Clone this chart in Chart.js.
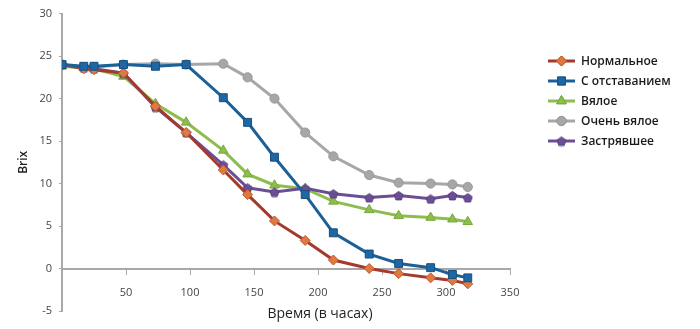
<!DOCTYPE html>
<html lang="ru">
<head>
<meta charset="utf-8">
<title>Brix</title>
<script src="https://cdn.jsdelivr.net/npm/chart.js@4.4.1/dist/chart.umd.min.js"></script>
<style>
  html, body { margin: 0; padding: 0; background: #ffffff; }
  #wrap { width: 700px; height: 329px; position: relative; }
</style>
</head>
<body>
<div id="wrap"><canvas id="brixChart"></canvas></div>
<script>
// Hours since start of fermentation
const hours = [0, 17, 25, 48, 73, 97, 126, 145, 166, 190, 212, 240, 263, 288, 305, 317];

// Brix readings per fermentation type
const normal   = [24.0, 23.5, 23.4, 23.0, 19.1, 16.0, 11.6, 8.7, 5.6, 3.3, 1.0, 0.0, -0.6, -1.1, -1.4, -1.8];
const delayed  = [24.0, 23.8, 23.8, 24.0, 23.8, 24.0, 20.1, 17.2, 13.1, 8.7, 4.2, 1.7, 0.6, 0.1, -0.7, -1.1];
const sluggish = [23.8, 23.6, 23.5, 22.6, 19.4, 17.2, 13.9, 11.1, 9.8, 9.4, 7.9, 6.9, 6.2, 6.0, 5.8, 5.5];
const verySlow = [24.0, 23.7, 23.7, 24.0, 24.1, 24.0, 24.1, 22.5, 20.0, 16.0, 13.2, 11.0, 10.1, 10.0, 9.9, 9.6];
const stuck    = [24.0, 23.6, 23.5, 23.0, 19.0, 16.0, 12.2, 9.5, 9.0, 9.45, 8.8, 8.35, 8.6, 8.2, 8.6, 8.35];

const seriesNames = ['Нормальное', 'С отставанием', 'Вялое', 'Очень вялое', 'Застрявшее'];

const xTicks = { min: 0, max: 350, step: 50 };
const yTicks = { min: -5, max: 30, step: 5 };

Chart.defaults.font.family = "'Open Sans', 'DejaVu Sans', sans-serif";

// pentagon marker for the last series (Chart.js has no built-in pentagon)
function makePentagon(size, fill, stroke) {
    const c = document.createElement('canvas');
    c.width = size;
    c.height = size;
    const g = c.getContext('2d');
    const r = size / 2 - 0.8;
    g.beginPath();
    for (let i = 0; i < 5; i++) {
        const a = -Math.PI / 2 + i * 2 * Math.PI / 5;
        const px = size / 2 + r * Math.cos(a);
        const py = size / 2 + 0.6 + r * Math.sin(a);
        if (i === 0) g.moveTo(px, py); else g.lineTo(px, py);
    }
    g.closePath();
    g.fillStyle = fill;
    g.fill();
    g.lineWidth = 1;
    g.strokeStyle = stroke;
    g.stroke();
    return c;
}

const pentagon = makePentagon(11, '#6b4e95', '#57407c');

function toPoints(values) {
    return values.map((v, i) => ({ x: hours[i], y: v }));
}

const styles = [
    { line: '#a5392b', fill: '#dd7a43', edge: '#c0582f', shape: 'rectRot', r: 5 },
    { line: '#1c6098', fill: '#1f67a3', edge: '#174f7e', shape: 'rect', r: 5.6 },
    { line: '#8dbd4c', fill: '#8dbd4c', edge: '#7aa83e', shape: 'triangle', r: 5.5 },
    { line: '#a7a7a7', fill: '#a7a7a7', edge: '#9a9a9a', shape: 'circle', r: 4.6 },
    { line: '#6b4e95', fill: '#6b4e95', edge: '#57407c', shape: pentagon, r: 5 }
];

const allSeries = [normal, delayed, sluggish, verySlow, stuck];
// lower order is painted on top: blue squares stay in front
const drawOrder = [1, 0, 5, 4, 3];

const datasets = allSeries.map((vals, i) => ({
    label: seriesNames[i],
    data: toPoints(vals),
    borderColor: styles[i].line,
    backgroundColor: styles[i].fill,
    pointBorderColor: styles[i].edge,
    pointBackgroundColor: styles[i].fill,
    pointStyle: styles[i].shape,
    pointRadius: styles[i].r,
    pointBorderWidth: 1,
    borderWidth: 3,
    tension: 0,
    order: drawOrder[i]
}));

// draw a legend marker the same way the points are drawn
function drawMarker(ctx, style, x, y) {
    ctx.save();
    ctx.fillStyle = style.fill;
    ctx.strokeStyle = style.edge;
    ctx.lineWidth = 1;
    if (typeof style.shape !== 'string') {
        ctx.drawImage(style.shape, x - style.shape.width / 2, y - style.shape.height / 2);
    } else {
        Chart.helpers.drawPoint(ctx, { pointStyle: style.shape, radius: style.r, borderWidth: 1 }, x, y);
        ctx.fill();
        ctx.stroke();
    }
    ctx.restore();
}

const sideLegend = {
    id: 'sideLegend',
    afterDraw(chart) {
        const ctx = chart.ctx;
        ctx.save();
        chart.data.datasets.forEach((ds, i) => {
            const y = 61 + i * 20;
            ctx.beginPath();
            ctx.moveTo(548, y);
            ctx.lineTo(575, y);
            ctx.lineWidth = 3;
            ctx.strokeStyle = ds.borderColor;
            ctx.stroke();
            drawMarker(ctx, styles[i], 561.5, y);
            ctx.fillStyle = '#1a1a1a';
            ctx.font = "600 12px 'Open Sans', sans-serif";
            ctx.textAlign = 'left';
            ctx.textBaseline = 'middle';
            ctx.fillText(ds.label, 581, y + 1);
        });
        ctx.restore();
    }
};

// x axis title sits below the tick labels of the zero-line axis
const xTitle = {
    id: 'xTitle',
    afterDraw(chart) {
        const ctx = chart.ctx;
        ctx.save();
        ctx.fillStyle = '#1e1e1e';
        ctx.font = "14px 'Open Sans', sans-serif";
        ctx.textAlign = 'center';
        ctx.textBaseline = 'alphabetic';
        ctx.fillText('Время (в часах)', 320, 318);
        ctx.restore();
    }
};

new Chart(document.getElementById('brixChart').getContext('2d'), {
    type: 'line',
    data: { datasets: datasets },
    plugins: [sideLegend, xTitle],
    options: {
        responsive: true,
        maintainAspectRatio: false,
        animation: false,
        layout: { padding: { left: 0, top: 9, right: 190, bottom: 18 } },
        plugins: {
            legend: { display: false },
            tooltip: { enabled: false }
        },
        scales: {
            x: {
                type: 'linear',
                position: { y: 0 },
                min: xTicks.min,
                max: xTicks.max,
                ticks: {
                    stepSize: xTicks.step,
                    color: '#444444',
                    font: { size: 11 },
                    padding: 13,
                    callback: v => (v === 0 ? '' : v)
                },
                grid: {
                    drawOnChartArea: false,
                    drawTicks: true,
                    tickLength: 5,
                    color: '#a8a8a8'
                },
                border: { display: true, color: '#a8a8a8', width: 2 }
            },
            y: {
                min: yTicks.min,
                max: yTicks.max,
                afterFit: scale => { scale.width = 62; },
                ticks: {
                    stepSize: yTicks.step,
                    color: '#444444',
                    font: { size: 11 },
                    padding: 7
                },
                grid: {
                    drawOnChartArea: false,
                    drawTicks: true,
                    tickLength: 3,
                    color: '#a8a8a8'
                },
                border: { display: true, color: '#a8a8a8', width: 2 },
                title: {
                    display: true,
                    text: 'Brix',
                    color: '#1e1e1e',
                    font: { size: 12, weight: '600' },
                    padding: { top: 16, bottom: 0 }
                }
            }
        }
    }
});
</script>
</body>
</html>
